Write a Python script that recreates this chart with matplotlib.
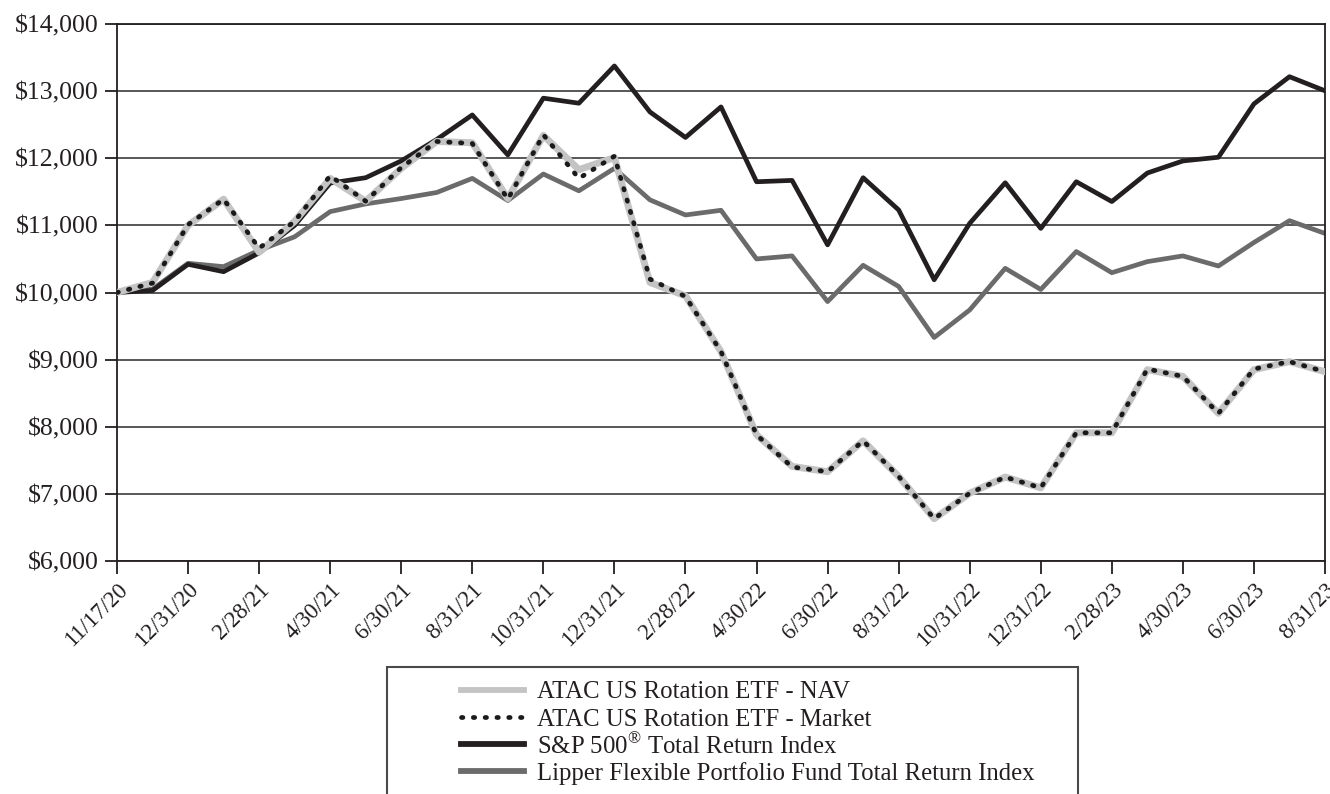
import matplotlib.pyplot as plt
import matplotlib.patches as mpatches
from matplotlib.lines import Line2D
from matplotlib.ticker import FuncFormatter
import numpy as np

plt.rcParams['font.family'] = ['Liberation Serif', 'DejaVu Serif']
plt.rcParams['mathtext.fontset'] = 'custom'
plt.rcParams['mathtext.rm'] = 'Liberation Serif'

dates = ["11/17/20", "11/30/20", "12/31/20", "1/31/21", "2/28/21", "3/31/21", "4/30/21",
         "5/31/21", "6/30/21", "7/31/21", "8/31/21", "9/30/21", "10/31/21", "11/30/21",
         "12/31/21", "1/31/22", "2/28/22", "3/31/22", "4/30/22", "5/31/22", "6/30/22",
         "7/31/22", "8/31/22", "9/30/22", "10/31/22", "11/30/22", "12/31/22", "1/31/23",
         "2/28/23", "3/31/23", "4/30/23", "5/31/23", "6/30/23", "7/31/23", "8/31/23"]

nav = [10000, 10150, 11000, 11390, 10600, 11060, 11700, 11360, 11850, 12250, 12230, 11400,
       12340, 11830, 12010, 10150, 9950, 9120, 7880, 7410, 7330, 7790, 7260, 6630, 7010,
       7250, 7090, 7910, 7910, 8850, 8750, 8200, 8850, 8970, 8820]
market = [10000, 10140, 11010, 11390, 10660, 11060, 11740, 11360, 11860, 12250, 12220, 11390,
          12350, 11700, 12030, 10200, 9940, 9120, 7880, 7400, 7330, 7790, 7260, 6630, 7010,
          7250, 7090, 7910, 7910, 8860, 8750, 8200, 8860, 8970, 8820]
sp500 = [10000, 10030, 10420, 10310, 10590, 11000, 11630, 11710, 11960, 12280, 12645, 12050,
         12895, 12820, 13375, 12690, 12310, 12765, 11650, 11670, 10710, 11710, 11230, 10190,
         11030, 11635, 10955, 11650, 11355, 11780, 11960, 12015, 12810, 13215, 13005]
lipper = [10000, 10050, 10435, 10385, 10630, 10830, 11205, 11320, 11400, 11490, 11700, 11370,
          11765, 11515, 11850, 11380, 11155, 11225, 10500, 10545, 9865, 10405, 10090, 9330,
          9740, 10360, 10045, 10610, 10295, 10460, 10545, 10395, 10745, 11070, 10880]

labels = ["ATAC US Rotation ETF - NAV", "ATAC US Rotation ETF - Market",
          r"S&P 500$^{\mathrm{®}}$ Total Return Index",
          "Lipper Flexible Portfolio Fund Total Return Index"]

W, H = 1330, 794
fig = plt.figure(figsize=(W / 100, H / 100), dpi=100)
ax = fig.add_axes([117 / W, 1 - 561 / H, (1325 - 117) / W, (561 - 24) / H])

x = np.arange(len(dates))
text_c = '#231f20'
nav_c, mkt_c, sp_c, lip_c = '#c4c4c4', '#1a1a1a', '#231f20', '#6b6b6b'
dots = (0, (0.3, 2.2))

# grid
for v in range(6000, 14001, 1000):
    ax.axhline(v, color='#4a4a4a', lw=1.3, zorder=1)

ax.plot(x, lipper, color=lip_c, lw=3.4, zorder=2)
ax.plot(x, sp500, color=sp_c, lw=3.4, zorder=3)
ax.plot(x, nav, color=nav_c, lw=5, zorder=4)
ax.plot(x, market, color=mkt_c, lw=3.4, zorder=5, linestyle=dots, dash_capstyle='round')

ax.set_xlim(0, len(dates) - 1)
ax.set_ylim(6000, 14000)
ax.set_yticks(range(6000, 14001, 1000))
ax.yaxis.set_major_formatter(FuncFormatter(lambda v, p: "${:,.0f}".format(v)))
ax.set_xticks(x[::2])
ax.set_xticklabels(dates[::2], rotation=45, ha='right', rotation_mode='anchor')

ax.tick_params(axis='both', direction='out', length=9, width=1.3, colors=text_c)
ax.tick_params(axis='y', pad=4, labelsize=18.5)
ax.tick_params(axis='x', pad=4, labelsize=16.5)
for s in ax.spines.values():
    s.set_color(text_c)
    s.set_linewidth(1.3)

# legend, drawn by hand in figure pixels
styles = [dict(color=nav_c, lw=4.2),
          dict(color=mkt_c, lw=3.4, linestyle=dots, dash_capstyle='round'),
          dict(color=sp_c, lw=4.2),
          dict(color=lip_c, lw=4.2)]
for i, (lab, st) in enumerate(zip(labels, styles)):
    yy = 1 - (690 + 27 * i) / H
    fig.lines.append(Line2D([461 / W, 524 / W], [yy, yy], transform=fig.transFigure, **st))
    fig.text(537 / W, yy, lab, fontsize=17.8, color=text_c, va='center_baseline')

fig.patches.append(mpatches.Rectangle((387 / W, -0.05), (1078 - 387) / W, 0.05 + 1 - 667 / H,
                                      transform=fig.transFigure, fill=False,
                                      edgecolor='#4a4a4a', lw=1.5))

fig.savefig('out.png', dpi=100)
